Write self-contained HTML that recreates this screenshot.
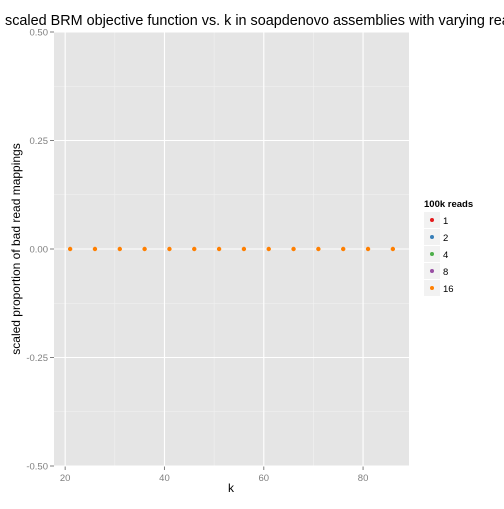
<!DOCTYPE html>
<html><head><meta charset="utf-8"><style>
body{margin:0;background:#fff;width:504px;height:504px;overflow:hidden}
svg{font-family:"Liberation Sans",Arial,sans-serif}
</style></head><body>
<svg id="c" width="504" height="504"></svg>
<script>
const ks=[21,26,31,36,41,46,51,56,61,66,71,76,81,86];
const vals=[0,0,0,0,0,0,0,0,0,0,0,0,0,0];
const xTicks=[20,40,60,80];
const yTicks=[-0.5,-0.25,0,0.25,0.5];
const yTickLabels=["-0.50","-0.25","0.00","0.25","0.50"];
const legendLabels=["1","2","4","8","16"];
const legendColors=["#e41a1c","#377eb8","#4daf4a","#984ea3","#ff7f00"];
const NS="http://www.w3.org/2000/svg";
const svg=document.getElementById('c');
const L=54,R=409,T=32,B=466;
const xmin=17.75,xmax=89.25,ymin=-0.5,ymax=0.5;
const sx=v=>L+(v-xmin)/(xmax-xmin)*(R-L);
const sy=v=>B-(v-ymin)/(ymax-ymin)*(B-T);
function mk(t,a,txt){const e=document.createElementNS(NS,t);for(const k in a)e.setAttribute(k,a[k]);if(txt!=null)e.textContent=txt;svg.appendChild(e);return e;}
let e=mk('rect',{x:L,y:T,width:R-L,height:B-T,fill:'#e5e5e5'});


// minor grid
for(let i=0;i<xTicks.length-1;i++){const m=(xTicks[i]+xTicks[i+1])/2;e=mk('line',{x1:sx(m),x2:sx(m),y1:T,y2:B,stroke:'#f2f2f2','stroke-width':0.6});}
for(let i=0;i<yTicks.length-1;i++){const m=(yTicks[i]+yTicks[i+1])/2;e=mk('line',{x1:L,x2:R,y1:sy(m),y2:sy(m),stroke:'#f2f2f2','stroke-width':0.6});}
xTicks.forEach(v=>{e=mk('line',{x1:sx(v),x2:sx(v),y1:T,y2:B,stroke:'#fff','stroke-width':1.1});
e=mk('line',{x1:sx(v),x2:sx(v),y1:B,y2:B+4,stroke:'#7f7f7f'});
e=mk('text',{x:sx(v),y:B+15,'font-size':9.5,fill:'#7f7f7f','text-anchor':'middle'},v);});
yTicks.forEach((v,i)=>{e=mk('line',{x1:L,x2:R,y1:sy(v),y2:sy(v),stroke:'#fff','stroke-width':1.1});
e=mk('line',{x1:L-4,x2:L,y1:sy(v),y2:sy(v),stroke:'#7f7f7f'});
e=mk('text',{x:L-6,y:sy(v)+3.5,'font-size':9.5,fill:'#7f7f7f','text-anchor':'end'},yTickLabels[i]);});
ks.forEach((k,i)=>{e=mk('circle',{cx:sx(k),cy:sy(vals[i]),r:2.2,fill:legendColors[4]});});
e=mk('text',{x:5,y:25,'font-size':14.4,fill:'#000'},'scaled BRM objective function vs. k in soapdenovo assemblies with varying reads');
e=mk('text',{x:231,y:492,'font-size':12,'text-anchor':'middle'},'k');
e=mk('text',{x:0,y:0,'font-size':12,'text-anchor':'middle',transform:'translate(20,249) rotate(-90)'},'scaled proportion of bad read mappings');
e=mk('text',{x:424,y:207,'font-size':9.5,'font-weight':'bold'},'100k reads');
legendLabels.forEach((lab,i)=>{const y=212+i*17;
e=mk('rect',{x:424,y:y,width:16,height:16,fill:'#f2f2f2'});
e=mk('circle',{cx:432,cy:y+8,r:2,fill:legendColors[i]});
e=mk('text',{x:443,y:y+12,'font-size':9.5},lab);});
</script>
</body></html>
